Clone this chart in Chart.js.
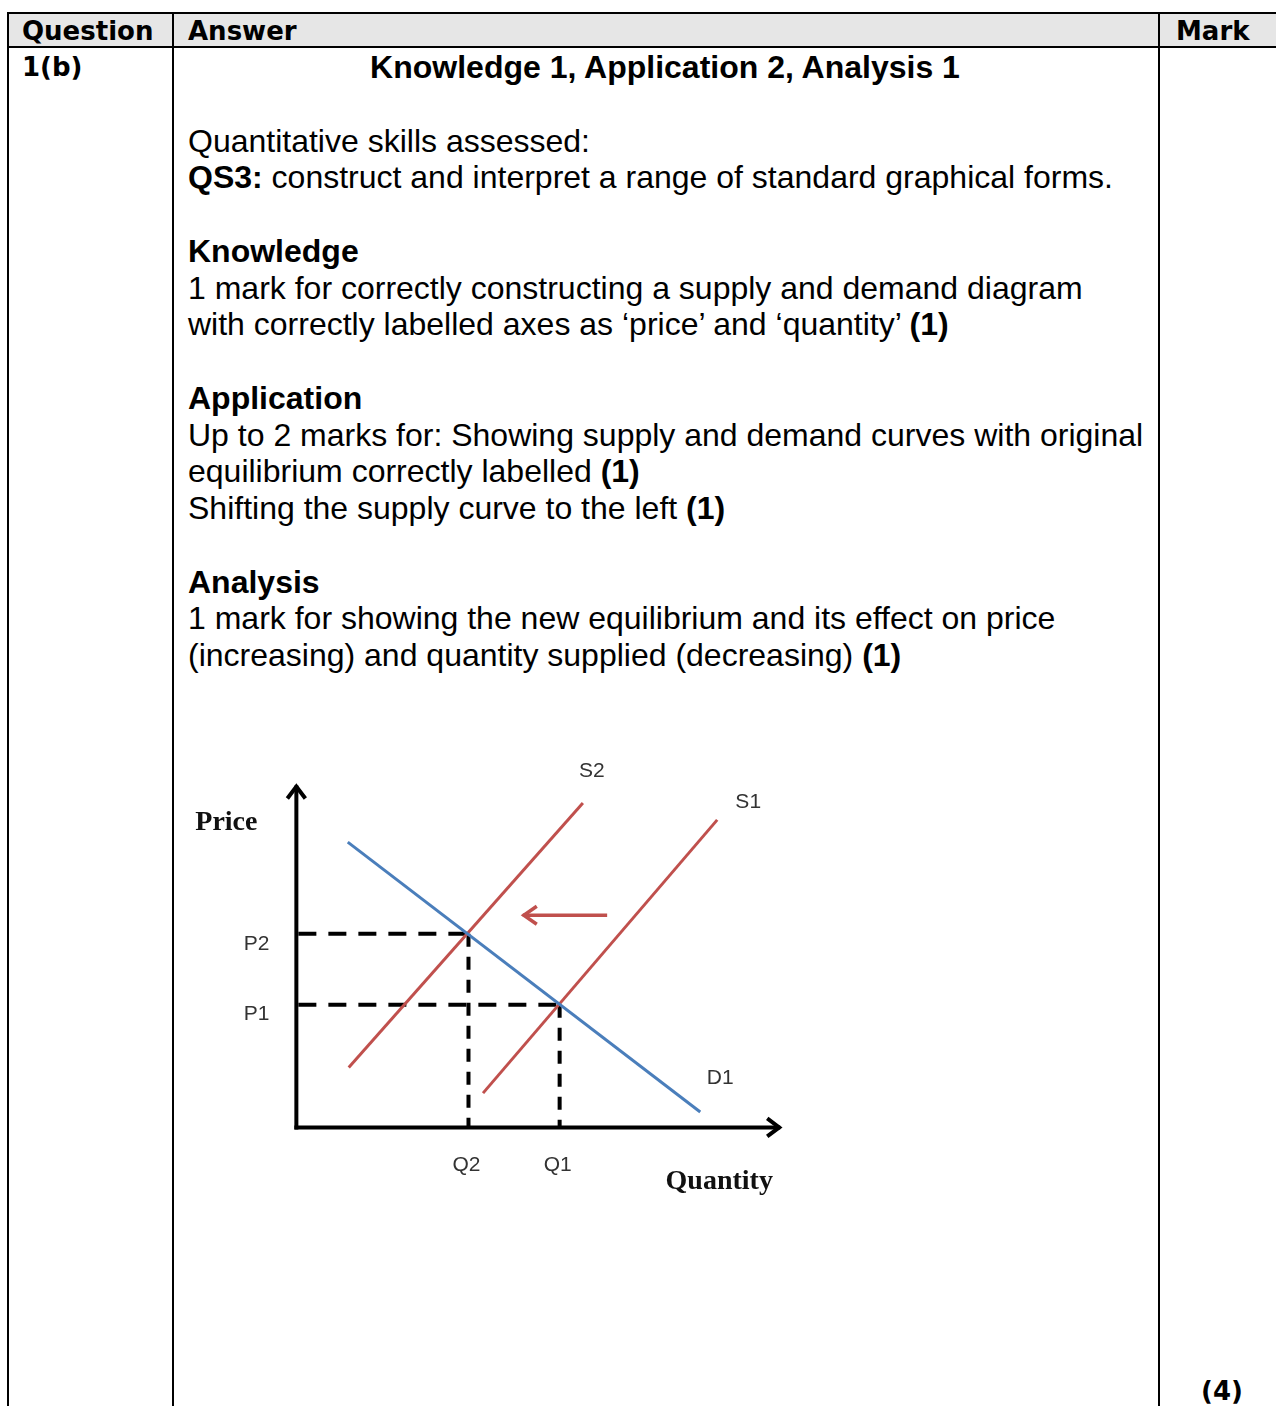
<!DOCTYPE html>
<html>
<head>
<meta charset="utf-8">
<script src="https://cdn.jsdelivr.net/npm/chart.js@4/dist/chart.umd.min.js"></script>
<style>
  html, body { margin:0; padding:0; background:#fff; }
  body { width:1276px; height:1406px; position:relative; overflow:hidden; }
  .ln { position:absolute; background:#000; }
  .hd { position:absolute; font-family:"DejaVu Sans", Verdana, sans-serif; font-weight:bold; font-size:26px; line-height:32px; color:#000; white-space:nowrap; }
  #answer { position:absolute; left:188px; top:49px; width:960px; font-family:"Liberation Sans", Arial, sans-serif; font-size:32px; line-height:36.75px; color:#000; white-space:nowrap; }
  #answer .c { display:block; text-align:center; width:984px; margin-left:-15px; }
  #chartWrap { position:absolute; left:180px; top:740px; width:640px; height:480px; }
</style>
</head>
<body>
<div style="position:absolute;left:9px;top:14px;width:1267px;height:32px;background:#e6e6e6"></div>
<div class="ln" style="left:7px;top:12px;width:1269px;height:2px"></div>
<div class="ln" style="left:7px;top:46px;width:1269px;height:2px"></div>
<div class="ln" style="left:7px;top:12px;width:2px;height:1394px"></div>
<div class="ln" style="left:172px;top:12px;width:2px;height:1394px"></div>
<div class="ln" style="left:1158px;top:12px;width:2px;height:1394px"></div>

<div class="hd" style="left:22px;top:15px">Question</div>
<div class="hd" style="left:188px;top:15px">Answer</div>
<div class="hd" style="left:1176px;top:15px">Mark</div>
<div class="hd" style="left:22px;top:51px">1(b)</div>
<div class="hd" style="left:1201px;top:1375px">(4)</div>

<div id="answer">
<span class="c"><b>Knowledge 1, Application 2, Analysis 1</b></span>
<br>
Quantitative skills assessed:<br>
<b>QS3:</b> construct and interpret a range of standard graphical forms.<br>
<br>
<b>Knowledge</b><br>
1 mark for correctly constructing a supply and demand diagram<br>
with correctly labelled axes as ‘price’ and ‘quantity’ <b>(1)</b><br>
<br>
<b>Application</b><br>
Up to 2 marks for: Showing supply and demand curves with original<br>
equilibrium correctly labelled <b>(1)</b><br>
Shifting the supply curve to the left <b>(1)</b><br>
<br>
<b>Analysis</b><br>
1 mark for showing the new equilibrium and its effect on price<br>
(increasing) and quantity supplied (decreasing) <b>(1)</b>
</div>

<div id="chartWrap"><canvas id="c" width="640" height="480"></canvas></div>

<script>
// ---- data (axis units 0..10) ----
const curveNames = ['D1', 'S1', 'S2'];
const demandD1 = [{x:1.06, y:8.32}, {x:8.33, y:0.45}];
const supplyS1 = [{x:3.85, y:1.00}, {x:8.68, y:8.97}];
const supplyS2 = [{x:1.08, y:1.75}, {x:5.91, y:9.46}];
const priceLabels = ['P1', 'P2'];
const priceValues = [3.58, 5.65];
const quantityLabels = ['Q1', 'Q2'];
const quantityValues = [5.43, 3.55];
const shiftArrow = [{x:6.41, y:6.19}, {x:4.67, y:6.19}];
const axisTitles = ['Quantity', 'Price'];
const axisMax = [10, 10];

const RED = 'rgb(192,80,77)';
const BLUE = 'rgb(74,126,187)';

const guideSets = [];
for (let i = 0; i < priceValues.length; i++) {
  guideSets.push({
    data: [{x:0, y:priceValues[i]}, {x:quantityValues[i], y:priceValues[i]}],
    borderColor:'#000', borderWidth:4, borderDash:[18,12], borderDashOffset:-2, showLine:true, pointRadius:0
  });
  guideSets.push({
    data: [{x:quantityValues[i], y:priceValues[i]}, {x:quantityValues[i], y:0}],
    borderColor:'#000', borderWidth:4, borderDash:[13,10], showLine:true, pointRadius:0
  });
}

const diagramPlugin = {
  id: 'diagram',
  afterDatasetsDraw(chart) {
    const ctx = chart.ctx;
    const sx = chart.scales.x, sy = chart.scales.y;
    const px = v => sx.getPixelForValue(v), py = v => sy.getPixelForValue(v);
    const ox = px(0), oy = py(0), xr = px(axisMax[0]), yt = py(axisMax[1]);
    ctx.save();
    ctx.strokeStyle = '#000';
    ctx.lineWidth = 4;
    ctx.lineCap = 'butt';
    ctx.lineJoin = 'miter';
    ctx.beginPath(); ctx.moveTo(ox, oy + 2); ctx.lineTo(ox, yt + 1); ctx.stroke();
    ctx.beginPath(); ctx.moveTo(ox - 2, oy); ctx.lineTo(xr - 1, oy); ctx.stroke();
    ctx.beginPath(); ctx.moveTo(ox - 9, yt + 14); ctx.lineTo(ox, yt + 2); ctx.lineTo(ox + 9, yt + 14); ctx.stroke();
    ctx.beginPath(); ctx.moveTo(xr - 14, oy - 9); ctx.lineTo(xr - 2, oy); ctx.lineTo(xr - 14, oy + 9); ctx.stroke();

    // shift arrow head
    const hx = px(shiftArrow[1].x), hy = py(shiftArrow[1].y);
    ctx.strokeStyle = RED; ctx.lineWidth = 3.5;
    ctx.beginPath(); ctx.moveTo(hx + 14, hy - 9); ctx.lineTo(hx + 1, hy); ctx.lineTo(hx + 14, hy + 9); ctx.stroke();

    // curve labels
    ctx.fillStyle = '#333';
    ctx.font = '21px "Liberation Sans", Arial, sans-serif';
    ctx.textAlign = 'center'; ctx.textBaseline = 'middle';
    const ends = [demandD1[1], supplyS1[1], supplyS2[1]];
    const offs = [[20, -34], [31, -18], [9, -32]];
    curveNames.forEach((n, i) => ctx.fillText(n, px(ends[i].x) + offs[i][0], py(ends[i].y) + offs[i][1]));
    // price / quantity labels
    ctx.textAlign = 'right';
    priceLabels.forEach((n, i) => ctx.fillText(n, ox - 27, py(priceValues[i]) + 10));
    ctx.textAlign = 'center';
    quantityLabels.forEach((n, i) => ctx.fillText(n, px(quantityValues[i]) - 2, oy + 38));
    // axis titles
    ctx.fillStyle = '#111';
    ctx.font = 'bold 28px "Liberation Serif", "Times New Roman", serif';
    ctx.fillText(axisTitles[1], ox - 70, yt + 38);
    ctx.fillText(axisTitles[0], xr - 62, oy + 54);
    ctx.restore();
  }
};

new Chart(document.getElementById('c'), {
  type: 'scatter',
  data: {
    datasets: [
      { label: curveNames[0], data: demandD1, borderColor: BLUE, borderWidth: 3, showLine: true, pointRadius: 0 },
      { label: curveNames[1], data: supplyS1, borderColor: RED, borderWidth: 3, showLine: true, pointRadius: 0 },
      { label: curveNames[2], data: supplyS2, borderColor: RED, borderWidth: 3, showLine: true, pointRadius: 0 },
      { label: 'shift', data: shiftArrow, borderColor: RED, borderWidth: 3.5, showLine: true, pointRadius: 0 },
      ...guideSets
    ]
  },
  options: {
    responsive: false,
    animation: false,
    devicePixelRatio: 1,
    layout: { padding: 0 },
    plugins: { legend: { display: false }, tooltip: { enabled: false } },
    scales: {
      x: { type: 'linear', min: -2.4, max: 10.8, display: false },
      y: { type: 'linear', min: -2.7, max: 11.3, display: false }
    }
  },
  plugins: [diagramPlugin]
});
</script>
</body>
</html>
